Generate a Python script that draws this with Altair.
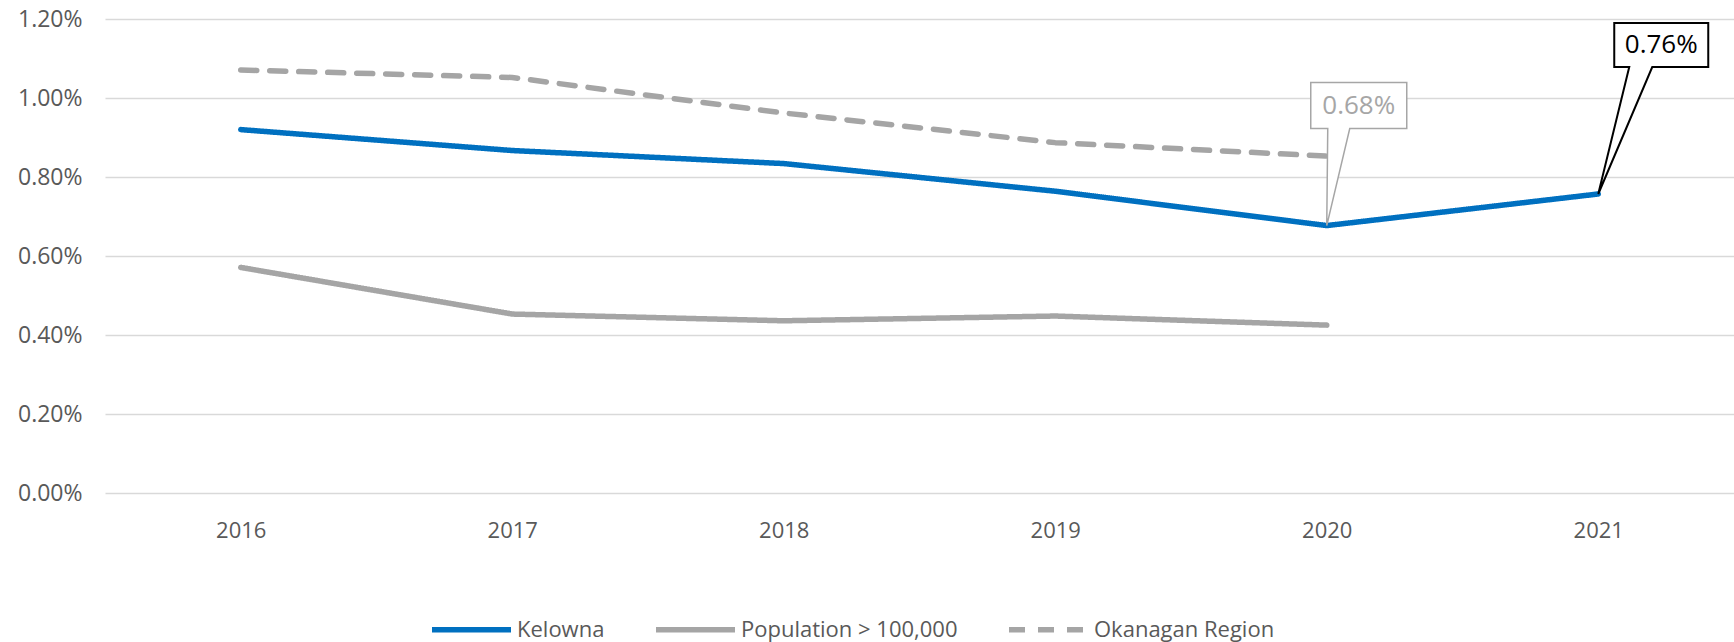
import altair as alt
import pandas as pd

years = [2016, 2017, 2018, 2019, 2020, 2021]
series_names = ["Kelowna", "Population > 100,000", "Okanagan Region"]
kelowna = [0.920, 0.867, 0.834, 0.764, 0.677, 0.757]
population = [0.571, 0.453, 0.436, 0.448, 0.425]
okanagan = [1.071, 1.052, 0.962, 0.887, 0.853]
y_ticks = [0.0, 0.002, 0.004, 0.006, 0.008, 0.010, 0.012]

rows = []
for name, vals in zip(series_names, [kelowna, population, okanagan]):
    for i, v in enumerate(vals):
        rows.append({"year": str(years[i]), "series": name, "value": v / 100.0})
df = pd.DataFrame(rows)

FONT = "Open Sans"
LABEL = "#595959"

x_enc = alt.X("year:O", title=None, sort=[str(y) for y in years],
              scale=alt.Scale(padding=0.5),
              axis=alt.Axis(labelAngle=0, ticks=False, domain=False, labelPadding=27,
                            labelFont=FONT, labelFontSize=22, labelColor=LABEL))
y_enc = alt.Y("value:Q", title=None,
              scale=alt.Scale(domain=[0, 0.012], nice=False),
              axis=alt.Axis(values=y_ticks, format=".2%", ticks=False, domain=False,
                            labelPadding=23, labelFont=FONT, labelFontSize=23,
                            labelColor=LABEL, grid=True, gridColor="#D9D9D9",
                            gridWidth=1.5))

lines = alt.Chart(df).mark_line(strokeWidth=5.5, strokeCap="round", strokeJoin="round").encode(
    x=x_enc,
    y=y_enc,
    color=alt.Color("series:N", sort=series_names,
                    scale=alt.Scale(domain=series_names,
                                    range=["#0070C0", "#A5A5A5", "#A5A5A5"]),
                    legend=alt.Legend(title=None, orient="none", direction="horizontal",
                                      legendX=324, legendY=568,
                                      symbolType="stroke", symbolSize=6241,
                                      symbolStrokeWidth=5.5, labelOffset=3,
                                      columnPadding=40, labelFont=FONT, labelLimit=500,
                                      labelFontSize=22, labelColor=LABEL)),
    strokeDash=alt.StrokeDash("series:N", sort=series_names,
                              scale=alt.Scale(domain=series_names,
                                              range=[[1, 0], [1, 0], [16, 13]]),
                              legend=alt.Legend(title=None, orient="none")),
)

kel = alt.Chart(df).transform_filter(alt.datum.series == "Kelowna")

gray_shape = "M0,0 L1,-97 L-16,-97 L-16,-143 L80,-143 L80,-97 L23,-97 Z"
black_shape = "M0,0 L31,-127 L16,-127 L16,-171 L110,-171 L110,-127 L54,-127 Z"

call1_box = kel.transform_filter(alt.datum.year == "2020").mark_point(
    shape=gray_shape, size=4, filled=False, fill="white", fillOpacity=1,
    stroke="#A6A6A6", strokeWidth=1.5, opacity=1).encode(x=x_enc, y=y_enc)
call1_txt = kel.transform_filter(alt.datum.year == "2020").mark_text(
    dx=32, dy=-120, font=FONT, fontSize=26, color="#A6A6A6", baseline="middle",
    align="center").encode(x=x_enc, y=y_enc, text=alt.Text("value:Q", format=".2%"))

call2_box = kel.transform_filter(alt.datum.year == "2021").mark_point(
    shape=black_shape, size=4, filled=False, fill="white", fillOpacity=1,
    stroke="#000000", strokeWidth=2, opacity=1).encode(x=x_enc, y=y_enc)
call2_txt = kel.transform_filter(alt.datum.year == "2021").mark_text(
    dx=63, dy=-149, font=FONT, fontSize=26, color="#000000", baseline="middle",
    align="center").encode(x=x_enc, y=y_enc, text=alt.Text("value:Q", format=".2%"))

chart = alt.layer(lines, call1_box, call1_txt, call2_box, call2_txt).properties(
    width=1629, height=474,
    autosize=alt.AutoSizeParams(type="none"),
    padding={"left": 105, "top": 19, "right": 0, "bottom": 149},
    background="white",
).configure_view(stroke=None)

chart.save("out.html", embed_options={"renderer": "svg", "actions": False})
